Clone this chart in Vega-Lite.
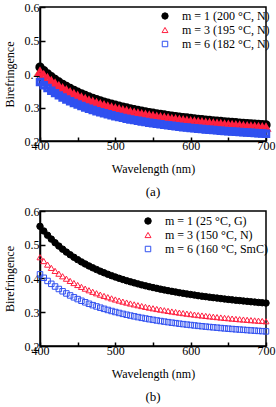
{
"$schema":"https://vega.github.io/schema/vega-lite/v6.json",
"padding":{"left":2,"top":0,"right":4,"bottom":0},
"background":"white",
"spacing":4,
"resolve":{"scale":{"x":"independent","y":"independent","stroke":"independent","fill":"independent","shape":"independent","size":"independent"},"legend":{"stroke":"independent","fill":"independent","shape":"independent","size":"independent"}},
"config":{
"font":"Liberation Serif",
"view":{"stroke":"black","strokeWidth":1.5},
"axis":{"domainColor":"black","domainWidth":1.5,"tickColor":"black","tickWidth":1.5,"labelFont":"Liberation Serif","labelFontSize":12,"labelColor":"black","titleFont":"Liberation Serif","titleFontSize":12,"titleFontWeight":"normal","titleColor":"black","grid":false,"labelFlush":false},
"legend":{"orient":"none","title":null,"labelFont":"Liberation Serif","labelFontSize":12,"labelColor":"black","symbolStrokeWidth":1,"rowPadding":2,"padding":0,"labelOffset":11},
"title":{"font":"Liberation Serif","fontSize":13,"fontWeight":"normal","color":"black","orient":"bottom","offset":12}
},
"datasets":{
"a":[
{"s":"m = 1 (200 °C, N)","w":400,"v":0.4204},{"s":"m = 1 (200 °C, N)","w":405,"v":0.4101},{"s":"m = 1 (200 °C, N)","w":410,"v":0.4005},{"s":"m = 1 (200 °C, N)","w":415,"v":0.3918},{"s":"m = 1 (200 °C, N)","w":420,"v":0.3837},{"s":"m = 1 (200 °C, N)","w":425,"v":0.3761},{"s":"m = 1 (200 °C, N)","w":430,"v":0.3692},{"s":"m = 1 (200 °C, N)","w":435,"v":0.3627},{"s":"m = 1 (200 °C, N)","w":440,"v":0.3567},{"s":"m = 1 (200 °C, N)","w":445,"v":0.3510},{"s":"m = 1 (200 °C, N)","w":450,"v":0.3457},{"s":"m = 1 (200 °C, N)","w":455,"v":0.3406},{"s":"m = 1 (200 °C, N)","w":460,"v":0.3360},{"s":"m = 1 (200 °C, N)","w":465,"v":0.3315},{"s":"m = 1 (200 °C, N)","w":470,"v":0.3274},{"s":"m = 1 (200 °C, N)","w":475,"v":0.3234},{"s":"m = 1 (200 °C, N)","w":480,"v":0.3197},{"s":"m = 1 (200 °C, N)","w":485,"v":0.3162},{"s":"m = 1 (200 °C, N)","w":490,"v":0.3129},{"s":"m = 1 (200 °C, N)","w":495,"v":0.3097},{"s":"m = 1 (200 °C, N)","w":500,"v":0.3067},{"s":"m = 1 (200 °C, N)","w":505,"v":0.3038},{"s":"m = 1 (200 °C, N)","w":510,"v":0.3010},{"s":"m = 1 (200 °C, N)","w":515,"v":0.2984},{"s":"m = 1 (200 °C, N)","w":520,"v":0.2959},{"s":"m = 1 (200 °C, N)","w":525,"v":0.2935},{"s":"m = 1 (200 °C, N)","w":530,"v":0.2912},{"s":"m = 1 (200 °C, N)","w":535,"v":0.2890},{"s":"m = 1 (200 °C, N)","w":540,"v":0.2869},{"s":"m = 1 (200 °C, N)","w":545,"v":0.2849},{"s":"m = 1 (200 °C, N)","w":550,"v":0.2830},{"s":"m = 1 (200 °C, N)","w":555,"v":0.2811},{"s":"m = 1 (200 °C, N)","w":560,"v":0.2794},{"s":"m = 1 (200 °C, N)","w":565,"v":0.2777},{"s":"m = 1 (200 °C, N)","w":570,"v":0.2760},{"s":"m = 1 (200 °C, N)","w":575,"v":0.2744},{"s":"m = 1 (200 °C, N)","w":580,"v":0.2729},{"s":"m = 1 (200 °C, N)","w":585,"v":0.2714},{"s":"m = 1 (200 °C, N)","w":590,"v":0.2700},{"s":"m = 1 (200 °C, N)","w":595,"v":0.2686},{"s":"m = 1 (200 °C, N)","w":600,"v":0.2673},{"s":"m = 1 (200 °C, N)","w":605,"v":0.2660},{"s":"m = 1 (200 °C, N)","w":610,"v":0.2648},{"s":"m = 1 (200 °C, N)","w":615,"v":0.2636},{"s":"m = 1 (200 °C, N)","w":620,"v":0.2625},{"s":"m = 1 (200 °C, N)","w":625,"v":0.2613},{"s":"m = 1 (200 °C, N)","w":630,"v":0.2603},{"s":"m = 1 (200 °C, N)","w":635,"v":0.2592},{"s":"m = 1 (200 °C, N)","w":640,"v":0.2582},{"s":"m = 1 (200 °C, N)","w":645,"v":0.2572},{"s":"m = 1 (200 °C, N)","w":650,"v":0.2563},{"s":"m = 1 (200 °C, N)","w":655,"v":0.2553},{"s":"m = 1 (200 °C, N)","w":660,"v":0.2544},{"s":"m = 1 (200 °C, N)","w":665,"v":0.2536},{"s":"m = 1 (200 °C, N)","w":670,"v":0.2527},{"s":"m = 1 (200 °C, N)","w":675,"v":0.2519},{"s":"m = 1 (200 °C, N)","w":680,"v":0.2511},{"s":"m = 1 (200 °C, N)","w":685,"v":0.2503},{"s":"m = 1 (200 °C, N)","w":690,"v":0.2496},{"s":"m = 1 (200 °C, N)","w":695,"v":0.2488},{"s":"m = 1 (200 °C, N)","w":700,"v":0.2481},
{"s":"m = 3 (195 °C, N)","w":400,"v":0.4062},{"s":"m = 3 (195 °C, N)","w":405,"v":0.3962},{"s":"m = 3 (195 °C, N)","w":410,"v":0.3870},{"s":"m = 3 (195 °C, N)","w":415,"v":0.3785},{"s":"m = 3 (195 °C, N)","w":420,"v":0.3707},{"s":"m = 3 (195 °C, N)","w":425,"v":0.3634},{"s":"m = 3 (195 °C, N)","w":430,"v":0.3567},{"s":"m = 3 (195 °C, N)","w":435,"v":0.3504},{"s":"m = 3 (195 °C, N)","w":440,"v":0.3446},{"s":"m = 3 (195 °C, N)","w":445,"v":0.3391},{"s":"m = 3 (195 °C, N)","w":450,"v":0.3340},{"s":"m = 3 (195 °C, N)","w":455,"v":0.3291},{"s":"m = 3 (195 °C, N)","w":460,"v":0.3246},{"s":"m = 3 (195 °C, N)","w":465,"v":0.3203},{"s":"m = 3 (195 °C, N)","w":470,"v":0.3163},{"s":"m = 3 (195 °C, N)","w":475,"v":0.3125},{"s":"m = 3 (195 °C, N)","w":480,"v":0.3089},{"s":"m = 3 (195 °C, N)","w":485,"v":0.3055},{"s":"m = 3 (195 °C, N)","w":490,"v":0.3023},{"s":"m = 3 (195 °C, N)","w":495,"v":0.2992},{"s":"m = 3 (195 °C, N)","w":500,"v":0.2963},{"s":"m = 3 (195 °C, N)","w":505,"v":0.2935},{"s":"m = 3 (195 °C, N)","w":510,"v":0.2908},{"s":"m = 3 (195 °C, N)","w":515,"v":0.2883},{"s":"m = 3 (195 °C, N)","w":520,"v":0.2859},{"s":"m = 3 (195 °C, N)","w":525,"v":0.2836},{"s":"m = 3 (195 °C, N)","w":530,"v":0.2814},{"s":"m = 3 (195 °C, N)","w":535,"v":0.2792},{"s":"m = 3 (195 °C, N)","w":540,"v":0.2772},{"s":"m = 3 (195 °C, N)","w":545,"v":0.2753},{"s":"m = 3 (195 °C, N)","w":550,"v":0.2734},{"s":"m = 3 (195 °C, N)","w":555,"v":0.2716},{"s":"m = 3 (195 °C, N)","w":560,"v":0.2699},{"s":"m = 3 (195 °C, N)","w":565,"v":0.2683},{"s":"m = 3 (195 °C, N)","w":570,"v":0.2667},{"s":"m = 3 (195 °C, N)","w":575,"v":0.2651},{"s":"m = 3 (195 °C, N)","w":580,"v":0.2637},{"s":"m = 3 (195 °C, N)","w":585,"v":0.2622},{"s":"m = 3 (195 °C, N)","w":590,"v":0.2609},{"s":"m = 3 (195 °C, N)","w":595,"v":0.2595},{"s":"m = 3 (195 °C, N)","w":600,"v":0.2583},{"s":"m = 3 (195 °C, N)","w":605,"v":0.2570},{"s":"m = 3 (195 °C, N)","w":610,"v":0.2558},{"s":"m = 3 (195 °C, N)","w":615,"v":0.2547},{"s":"m = 3 (195 °C, N)","w":620,"v":0.2536},{"s":"m = 3 (195 °C, N)","w":625,"v":0.2525},{"s":"m = 3 (195 °C, N)","w":630,"v":0.2515},{"s":"m = 3 (195 °C, N)","w":635,"v":0.2505},{"s":"m = 3 (195 °C, N)","w":640,"v":0.2495},{"s":"m = 3 (195 °C, N)","w":645,"v":0.2485},{"s":"m = 3 (195 °C, N)","w":650,"v":0.2476},{"s":"m = 3 (195 °C, N)","w":655,"v":0.2467},{"s":"m = 3 (195 °C, N)","w":660,"v":0.2458},{"s":"m = 3 (195 °C, N)","w":665,"v":0.2450},{"s":"m = 3 (195 °C, N)","w":670,"v":0.2442},{"s":"m = 3 (195 °C, N)","w":675,"v":0.2434},{"s":"m = 3 (195 °C, N)","w":680,"v":0.2426},{"s":"m = 3 (195 °C, N)","w":685,"v":0.2419},{"s":"m = 3 (195 °C, N)","w":690,"v":0.2411},{"s":"m = 3 (195 °C, N)","w":695,"v":0.2404},{"s":"m = 3 (195 °C, N)","w":700,"v":0.2397},
{"s":"m = 6 (182 °C, N)","w":400,"v":0.3758},{"s":"m = 6 (182 °C, N)","w":405,"v":0.3665},{"s":"m = 6 (182 °C, N)","w":410,"v":0.3580},{"s":"m = 6 (182 °C, N)","w":415,"v":0.3501},{"s":"m = 6 (182 °C, N)","w":420,"v":0.3429},{"s":"m = 6 (182 °C, N)","w":425,"v":0.3362},{"s":"m = 6 (182 °C, N)","w":430,"v":0.3299},{"s":"m = 6 (182 °C, N)","w":435,"v":0.3241},{"s":"m = 6 (182 °C, N)","w":440,"v":0.3187},{"s":"m = 6 (182 °C, N)","w":445,"v":0.3137},{"s":"m = 6 (182 °C, N)","w":450,"v":0.3089},{"s":"m = 6 (182 °C, N)","w":455,"v":0.3044},{"s":"m = 6 (182 °C, N)","w":460,"v":0.3003},{"s":"m = 6 (182 °C, N)","w":465,"v":0.2963},{"s":"m = 6 (182 °C, N)","w":470,"v":0.2926},{"s":"m = 6 (182 °C, N)","w":475,"v":0.2891},{"s":"m = 6 (182 °C, N)","w":480,"v":0.2857},{"s":"m = 6 (182 °C, N)","w":485,"v":0.2826},{"s":"m = 6 (182 °C, N)","w":490,"v":0.2796},{"s":"m = 6 (182 °C, N)","w":495,"v":0.2767},{"s":"m = 6 (182 °C, N)","w":500,"v":0.2740},{"s":"m = 6 (182 °C, N)","w":505,"v":0.2715},{"s":"m = 6 (182 °C, N)","w":510,"v":0.2690},{"s":"m = 6 (182 °C, N)","w":515,"v":0.2667},{"s":"m = 6 (182 °C, N)","w":520,"v":0.2644},{"s":"m = 6 (182 °C, N)","w":525,"v":0.2623},{"s":"m = 6 (182 °C, N)","w":530,"v":0.2603},{"s":"m = 6 (182 °C, N)","w":535,"v":0.2583},{"s":"m = 6 (182 °C, N)","w":540,"v":0.2564},{"s":"m = 6 (182 °C, N)","w":545,"v":0.2546},{"s":"m = 6 (182 °C, N)","w":550,"v":0.2529},{"s":"m = 6 (182 °C, N)","w":555,"v":0.2513},{"s":"m = 6 (182 °C, N)","w":560,"v":0.2497},{"s":"m = 6 (182 °C, N)","w":565,"v":0.2481},{"s":"m = 6 (182 °C, N)","w":570,"v":0.2467},{"s":"m = 6 (182 °C, N)","w":575,"v":0.2452},{"s":"m = 6 (182 °C, N)","w":580,"v":0.2439},{"s":"m = 6 (182 °C, N)","w":585,"v":0.2425},{"s":"m = 6 (182 °C, N)","w":590,"v":0.2413},{"s":"m = 6 (182 °C, N)","w":595,"v":0.2400},{"s":"m = 6 (182 °C, N)","w":600,"v":0.2389},{"s":"m = 6 (182 °C, N)","w":605,"v":0.2378},{"s":"m = 6 (182 °C, N)","w":610,"v":0.2367},{"s":"m = 6 (182 °C, N)","w":615,"v":0.2356},{"s":"m = 6 (182 °C, N)","w":620,"v":0.2346},{"s":"m = 6 (182 °C, N)","w":625,"v":0.2336},{"s":"m = 6 (182 °C, N)","w":630,"v":0.2326},{"s":"m = 6 (182 °C, N)","w":635,"v":0.2317},{"s":"m = 6 (182 °C, N)","w":640,"v":0.2308},{"s":"m = 6 (182 °C, N)","w":645,"v":0.2299},{"s":"m = 6 (182 °C, N)","w":650,"v":0.2290},{"s":"m = 6 (182 °C, N)","w":655,"v":0.2282},{"s":"m = 6 (182 °C, N)","w":660,"v":0.2274},{"s":"m = 6 (182 °C, N)","w":665,"v":0.2266},{"s":"m = 6 (182 °C, N)","w":670,"v":0.2259},{"s":"m = 6 (182 °C, N)","w":675,"v":0.2251},{"s":"m = 6 (182 °C, N)","w":680,"v":0.2244},{"s":"m = 6 (182 °C, N)","w":685,"v":0.2237},{"s":"m = 6 (182 °C, N)","w":690,"v":0.2230},{"s":"m = 6 (182 °C, N)","w":695,"v":0.2224},{"s":"m = 6 (182 °C, N)","w":700,"v":0.2218}
],
"b":[
{"s":"m = 1 (25 °C, G)","w":400,"v":0.5545},{"s":"m = 1 (25 °C, G)","w":405,"v":0.5408},{"s":"m = 1 (25 °C, G)","w":410,"v":0.5282},{"s":"m = 1 (25 °C, G)","w":415,"v":0.5167},{"s":"m = 1 (25 °C, G)","w":420,"v":0.5060},{"s":"m = 1 (25 °C, G)","w":425,"v":0.4961},{"s":"m = 1 (25 °C, G)","w":430,"v":0.4869},{"s":"m = 1 (25 °C, G)","w":435,"v":0.4783},{"s":"m = 1 (25 °C, G)","w":440,"v":0.4704},{"s":"m = 1 (25 °C, G)","w":445,"v":0.4629},{"s":"m = 1 (25 °C, G)","w":450,"v":0.4559},{"s":"m = 1 (25 °C, G)","w":455,"v":0.4492},{"s":"m = 1 (25 °C, G)","w":460,"v":0.4431},{"s":"m = 1 (25 °C, G)","w":465,"v":0.4372},{"s":"m = 1 (25 °C, G)","w":470,"v":0.4317},{"s":"m = 1 (25 °C, G)","w":475,"v":0.4266},{"s":"m = 1 (25 °C, G)","w":480,"v":0.4216},{"s":"m = 1 (25 °C, G)","w":485,"v":0.4170},{"s":"m = 1 (25 °C, G)","w":490,"v":0.4126},{"s":"m = 1 (25 °C, G)","w":495,"v":0.4084},{"s":"m = 1 (25 °C, G)","w":500,"v":0.4044},{"s":"m = 1 (25 °C, G)","w":505,"v":0.4006},{"s":"m = 1 (25 °C, G)","w":510,"v":0.3970},{"s":"m = 1 (25 °C, G)","w":515,"v":0.3935},{"s":"m = 1 (25 °C, G)","w":520,"v":0.3903},{"s":"m = 1 (25 °C, G)","w":525,"v":0.3871},{"s":"m = 1 (25 °C, G)","w":530,"v":0.3841},{"s":"m = 1 (25 °C, G)","w":535,"v":0.3811},{"s":"m = 1 (25 °C, G)","w":540,"v":0.3784},{"s":"m = 1 (25 °C, G)","w":545,"v":0.3757},{"s":"m = 1 (25 °C, G)","w":550,"v":0.3732},{"s":"m = 1 (25 °C, G)","w":555,"v":0.3708},{"s":"m = 1 (25 °C, G)","w":560,"v":0.3684},{"s":"m = 1 (25 °C, G)","w":565,"v":0.3662},{"s":"m = 1 (25 °C, G)","w":570,"v":0.3640},{"s":"m = 1 (25 °C, G)","w":575,"v":0.3619},{"s":"m = 1 (25 °C, G)","w":580,"v":0.3600},{"s":"m = 1 (25 °C, G)","w":585,"v":0.3579},{"s":"m = 1 (25 °C, G)","w":590,"v":0.3561},{"s":"m = 1 (25 °C, G)","w":595,"v":0.3542},{"s":"m = 1 (25 °C, G)","w":600,"v":0.3526},{"s":"m = 1 (25 °C, G)","w":605,"v":0.3509},{"s":"m = 1 (25 °C, G)","w":610,"v":0.3491},{"s":"m = 1 (25 °C, G)","w":615,"v":0.3476},{"s":"m = 1 (25 °C, G)","w":620,"v":0.3462},{"s":"m = 1 (25 °C, G)","w":625,"v":0.3447},{"s":"m = 1 (25 °C, G)","w":630,"v":0.3433},{"s":"m = 1 (25 °C, G)","w":635,"v":0.3420},{"s":"m = 1 (25 °C, G)","w":640,"v":0.3405},{"s":"m = 1 (25 °C, G)","w":645,"v":0.3392},{"s":"m = 1 (25 °C, G)","w":650,"v":0.3380},{"s":"m = 1 (25 °C, G)","w":655,"v":0.3367},{"s":"m = 1 (25 °C, G)","w":660,"v":0.3355},{"s":"m = 1 (25 °C, G)","w":665,"v":0.3345},{"s":"m = 1 (25 °C, G)","w":670,"v":0.3334},{"s":"m = 1 (25 °C, G)","w":675,"v":0.3323},{"s":"m = 1 (25 °C, G)","w":680,"v":0.3311},{"s":"m = 1 (25 °C, G)","w":685,"v":0.3302},{"s":"m = 1 (25 °C, G)","w":690,"v":0.3291},{"s":"m = 1 (25 °C, G)","w":695,"v":0.3282},{"s":"m = 1 (25 °C, G)","w":700,"v":0.3272},
{"s":"m = 3 (150 °C, N)","w":400,"v":0.4631},{"s":"m = 3 (150 °C, N)","w":405,"v":0.4517},{"s":"m = 3 (150 °C, N)","w":410,"v":0.4412},{"s":"m = 3 (150 °C, N)","w":415,"v":0.4315},{"s":"m = 3 (150 °C, N)","w":420,"v":0.4226},{"s":"m = 3 (150 °C, N)","w":425,"v":0.4143},{"s":"m = 3 (150 °C, N)","w":430,"v":0.4066},{"s":"m = 3 (150 °C, N)","w":435,"v":0.3995},{"s":"m = 3 (150 °C, N)","w":440,"v":0.3928},{"s":"m = 3 (150 °C, N)","w":445,"v":0.3866},{"s":"m = 3 (150 °C, N)","w":450,"v":0.3808},{"s":"m = 3 (150 °C, N)","w":455,"v":0.3752},{"s":"m = 3 (150 °C, N)","w":460,"v":0.3700},{"s":"m = 3 (150 °C, N)","w":465,"v":0.3652},{"s":"m = 3 (150 °C, N)","w":470,"v":0.3606},{"s":"m = 3 (150 °C, N)","w":475,"v":0.3563},{"s":"m = 3 (150 °C, N)","w":480,"v":0.3522},{"s":"m = 3 (150 °C, N)","w":485,"v":0.3483},{"s":"m = 3 (150 °C, N)","w":490,"v":0.3446},{"s":"m = 3 (150 °C, N)","w":495,"v":0.3411},{"s":"m = 3 (150 °C, N)","w":500,"v":0.3378},{"s":"m = 3 (150 °C, N)","w":505,"v":0.3346},{"s":"m = 3 (150 °C, N)","w":510,"v":0.3315},{"s":"m = 3 (150 °C, N)","w":515,"v":0.3287},{"s":"m = 3 (150 °C, N)","w":520,"v":0.3259},{"s":"m = 3 (150 °C, N)","w":525,"v":0.3233},{"s":"m = 3 (150 °C, N)","w":530,"v":0.3208},{"s":"m = 3 (150 °C, N)","w":535,"v":0.3183},{"s":"m = 3 (150 °C, N)","w":540,"v":0.3160},{"s":"m = 3 (150 °C, N)","w":545,"v":0.3138},{"s":"m = 3 (150 °C, N)","w":550,"v":0.3117},{"s":"m = 3 (150 °C, N)","w":555,"v":0.3096},{"s":"m = 3 (150 °C, N)","w":560,"v":0.3077},{"s":"m = 3 (150 °C, N)","w":565,"v":0.3059},{"s":"m = 3 (150 °C, N)","w":570,"v":0.3040},{"s":"m = 3 (150 °C, N)","w":575,"v":0.3022},{"s":"m = 3 (150 °C, N)","w":580,"v":0.3006},{"s":"m = 3 (150 °C, N)","w":585,"v":0.2989},{"s":"m = 3 (150 °C, N)","w":590,"v":0.2974},{"s":"m = 3 (150 °C, N)","w":595,"v":0.2958},{"s":"m = 3 (150 °C, N)","w":600,"v":0.2945},{"s":"m = 3 (150 °C, N)","w":605,"v":0.2930},{"s":"m = 3 (150 °C, N)","w":610,"v":0.2916},{"s":"m = 3 (150 °C, N)","w":615,"v":0.2904},{"s":"m = 3 (150 °C, N)","w":620,"v":0.2891},{"s":"m = 3 (150 °C, N)","w":625,"v":0.2879},{"s":"m = 3 (150 °C, N)","w":630,"v":0.2867},{"s":"m = 3 (150 °C, N)","w":635,"v":0.2856},{"s":"m = 3 (150 °C, N)","w":640,"v":0.2844},{"s":"m = 3 (150 °C, N)","w":645,"v":0.2833},{"s":"m = 3 (150 °C, N)","w":650,"v":0.2823},{"s":"m = 3 (150 °C, N)","w":655,"v":0.2812},{"s":"m = 3 (150 °C, N)","w":660,"v":0.2802},{"s":"m = 3 (150 °C, N)","w":665,"v":0.2793},{"s":"m = 3 (150 °C, N)","w":670,"v":0.2784},{"s":"m = 3 (150 °C, N)","w":675,"v":0.2775},{"s":"m = 3 (150 °C, N)","w":680,"v":0.2766},{"s":"m = 3 (150 °C, N)","w":685,"v":0.2758},{"s":"m = 3 (150 °C, N)","w":690,"v":0.2749},{"s":"m = 3 (150 °C, N)","w":695,"v":0.2741},{"s":"m = 3 (150 °C, N)","w":700,"v":0.2733},
{"s":"m = 6 (160 °C, SmC)","w":400,"v":0.4123},{"s":"m = 6 (160 °C, SmC)","w":405,"v":0.4021},{"s":"m = 6 (160 °C, SmC)","w":410,"v":0.3928},{"s":"m = 6 (160 °C, SmC)","w":415,"v":0.3842},{"s":"m = 6 (160 °C, SmC)","w":420,"v":0.3763},{"s":"m = 6 (160 °C, SmC)","w":425,"v":0.3689},{"s":"m = 6 (160 °C, SmC)","w":430,"v":0.3621},{"s":"m = 6 (160 °C, SmC)","w":435,"v":0.3557},{"s":"m = 6 (160 °C, SmC)","w":440,"v":0.3498},{"s":"m = 6 (160 °C, SmC)","w":445,"v":0.3442},{"s":"m = 6 (160 °C, SmC)","w":450,"v":0.3390},{"s":"m = 6 (160 °C, SmC)","w":455,"v":0.3340},{"s":"m = 6 (160 °C, SmC)","w":460,"v":0.3295},{"s":"m = 6 (160 °C, SmC)","w":465,"v":0.3251},{"s":"m = 6 (160 °C, SmC)","w":470,"v":0.3210},{"s":"m = 6 (160 °C, SmC)","w":475,"v":0.3172},{"s":"m = 6 (160 °C, SmC)","w":480,"v":0.3135},{"s":"m = 6 (160 °C, SmC)","w":485,"v":0.3101},{"s":"m = 6 (160 °C, SmC)","w":490,"v":0.3068},{"s":"m = 6 (160 °C, SmC)","w":495,"v":0.3037},{"s":"m = 6 (160 °C, SmC)","w":500,"v":0.3007},{"s":"m = 6 (160 °C, SmC)","w":505,"v":0.2979},{"s":"m = 6 (160 °C, SmC)","w":510,"v":0.2952},{"s":"m = 6 (160 °C, SmC)","w":515,"v":0.2926},{"s":"m = 6 (160 °C, SmC)","w":520,"v":0.2902},{"s":"m = 6 (160 °C, SmC)","w":525,"v":0.2879},{"s":"m = 6 (160 °C, SmC)","w":530,"v":0.2856},{"s":"m = 6 (160 °C, SmC)","w":535,"v":0.2834},{"s":"m = 6 (160 °C, SmC)","w":540,"v":0.2814},{"s":"m = 6 (160 °C, SmC)","w":545,"v":0.2794},{"s":"m = 6 (160 °C, SmC)","w":550,"v":0.2775},{"s":"m = 6 (160 °C, SmC)","w":555,"v":0.2757},{"s":"m = 6 (160 °C, SmC)","w":560,"v":0.2740},{"s":"m = 6 (160 °C, SmC)","w":565,"v":0.2723},{"s":"m = 6 (160 °C, SmC)","w":570,"v":0.2707},{"s":"m = 6 (160 °C, SmC)","w":575,"v":0.2691},{"s":"m = 6 (160 °C, SmC)","w":580,"v":0.2677},{"s":"m = 6 (160 °C, SmC)","w":585,"v":0.2661},{"s":"m = 6 (160 °C, SmC)","w":590,"v":0.2648},{"s":"m = 6 (160 °C, SmC)","w":595,"v":0.2634},{"s":"m = 6 (160 °C, SmC)","w":600,"v":0.2622},{"s":"m = 6 (160 °C, SmC)","w":605,"v":0.2609},{"s":"m = 6 (160 °C, SmC)","w":610,"v":0.2596},{"s":"m = 6 (160 °C, SmC)","w":615,"v":0.2585},{"s":"m = 6 (160 °C, SmC)","w":620,"v":0.2574},{"s":"m = 6 (160 °C, SmC)","w":625,"v":0.2563},{"s":"m = 6 (160 °C, SmC)","w":630,"v":0.2553},{"s":"m = 6 (160 °C, SmC)","w":635,"v":0.2543},{"s":"m = 6 (160 °C, SmC)","w":640,"v":0.2532},{"s":"m = 6 (160 °C, SmC)","w":645,"v":0.2522},{"s":"m = 6 (160 °C, SmC)","w":650,"v":0.2513},{"s":"m = 6 (160 °C, SmC)","w":655,"v":0.2504},{"s":"m = 6 (160 °C, SmC)","w":660,"v":0.2495},{"s":"m = 6 (160 °C, SmC)","w":665,"v":0.2487},{"s":"m = 6 (160 °C, SmC)","w":670,"v":0.2479},{"s":"m = 6 (160 °C, SmC)","w":675,"v":0.2471},{"s":"m = 6 (160 °C, SmC)","w":680,"v":0.2462},{"s":"m = 6 (160 °C, SmC)","w":685,"v":0.2455},{"s":"m = 6 (160 °C, SmC)","w":690,"v":0.2447},{"s":"m = 6 (160 °C, SmC)","w":695,"v":0.2440},{"s":"m = 6 (160 °C, SmC)","w":700,"v":0.2433}
]
},
"vconcat":[
{
"width":226,"height":134,
"data":{"name":"a"},
"title":{"text":"(a)"},
"mark":{"type":"point","strokeWidth":3,"opacity":1},
"encoding":{
"x":{"field":"w","type":"quantitative","scale":{"domain":[400,700],"padding":0,"nice":false,"zero":false},"axis":{"title":"Wavelength (nm)","values":[400,450,500,550,600,650,700],"labelExpr":"datum.value % 100 == 0 ? datum.label : ''","tickSize":-4,"labelPadding":3,"titlePadding":12}},
"y":{"field":"v","type":"quantitative","scale":{"domain":[0.2,0.6],"padding":0,"nice":false,"zero":false},"axis":{"title":"Birefringence","values":[0.2,0.3,0.4,0.5,0.6],"format":".1f","tickSize":-5,"labelPadding":6,"titlePadding":8}},
"stroke":{"field":"s","type":"nominal","scale":{"domain":["m = 1 (200 °C, N)","m = 3 (195 °C, N)","m = 6 (182 °C, N)"],"range":["black","#ff2040","#3050f0"]},"legend":{"legendX":119,"legendY":3}},
"fill":{"field":"s","type":"nominal","scale":{"domain":["m = 1 (200 °C, N)","m = 3 (195 °C, N)","m = 6 (182 °C, N)"],"range":["black","transparent","transparent"]},"legend":{"legendX":119,"legendY":3}},
"shape":{"field":"s","type":"nominal","scale":{"domain":["m = 1 (200 °C, N)","m = 3 (195 °C, N)","m = 6 (182 °C, N)"],"range":["circle","triangle-up","square"]},"legend":{"legendX":119,"legendY":3}},
"size":{"field":"s","type":"nominal","scale":{"domain":["m = 1 (200 °C, N)","m = 3 (195 °C, N)","m = 6 (182 °C, N)"],"range":[40,30,28]},"legend":{"legendX":119,"legendY":3}}
}
},
{
"width":226,"height":135,
"data":{"name":"b"},
"title":{"text":"(b)"},
"mark":{"type":"point","strokeWidth":1,"opacity":1},
"encoding":{
"x":{"field":"w","type":"quantitative","scale":{"domain":[400,700],"padding":0,"nice":false,"zero":false},"axis":{"title":"Wavelength (nm)","values":[400,450,500,550,600,650,700],"labelExpr":"datum.value % 100 == 0 ? datum.label : ''","tickSize":-4,"labelPadding":3,"titlePadding":12}},
"y":{"field":"v","type":"quantitative","scale":{"domain":[0.2,0.6],"padding":0,"nice":false,"zero":false},"axis":{"title":"Birefringence","values":[0.2,0.3,0.4,0.5,0.6],"format":".1f","tickSize":-5,"labelPadding":6,"titlePadding":8}},
"stroke":{"field":"s","type":"nominal","scale":{"domain":["m = 1 (25 °C, G)","m = 3 (150 °C, N)","m = 6 (160 °C, SmC)"],"range":["black","#ff2040","#3050f0"]},"legend":{"legendX":102,"legendY":4}},
"fill":{"field":"s","type":"nominal","scale":{"domain":["m = 1 (25 °C, G)","m = 3 (150 °C, N)","m = 6 (160 °C, SmC)"],"range":["black","transparent","transparent"]},"legend":{"legendX":102,"legendY":4}},
"shape":{"field":"s","type":"nominal","scale":{"domain":["m = 1 (25 °C, G)","m = 3 (150 °C, N)","m = 6 (160 °C, SmC)"],"range":["circle","triangle-up","square"]},"legend":{"legendX":102,"legendY":4}},
"size":{"field":"s","type":"nominal","scale":{"domain":["m = 1 (25 °C, G)","m = 3 (150 °C, N)","m = 6 (160 °C, SmC)"],"range":[42,30,30]},"legend":{"legendX":102,"legendY":4}}
}
}
]
}
